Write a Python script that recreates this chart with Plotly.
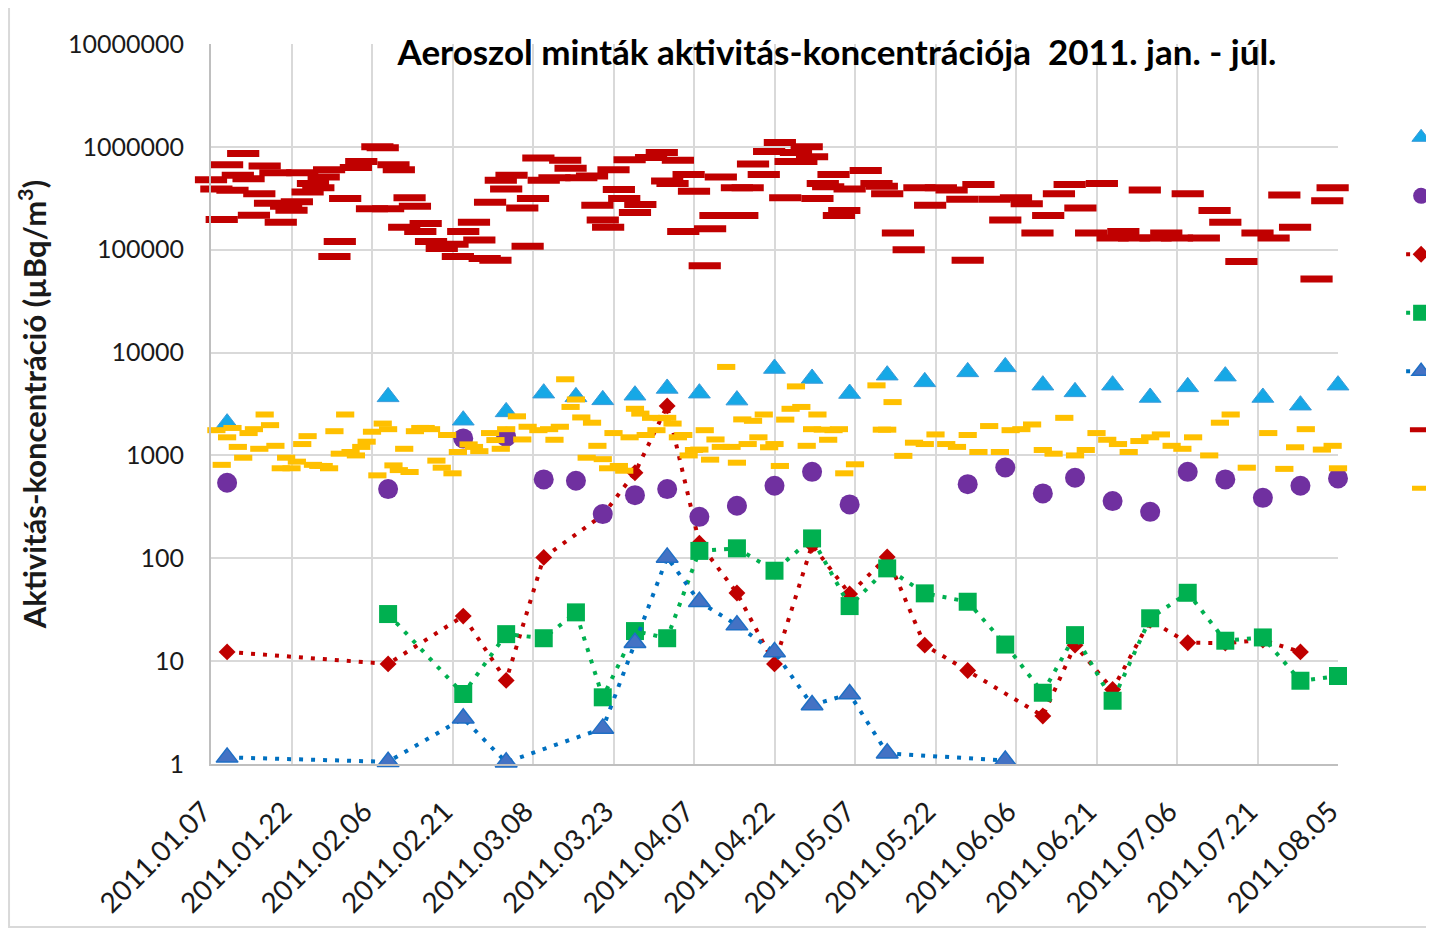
import plotly.graph_objects as go

# ---- weekly series ----
tri_dates = ["2011-01-10","2011-02-09","2011-02-23","2011-03-03","2011-03-10","2011-03-16","2011-03-21",
             "2011-03-27","2011-04-02","2011-04-08","2011-04-15","2011-04-22","2011-04-29","2011-05-06",
             "2011-05-13","2011-05-20","2011-05-28","2011-06-04","2011-06-11","2011-06-17","2011-06-24",
             "2011-07-01","2011-07-08","2011-07-15","2011-07-22","2011-07-29","2011-08-05"]
tri_vals = [2060,3710,2200,2650,4030,3710,3470,3850,4480,4030,3450,7000,5600,4000,
            6030,5190,6490,7260,4820,4150,4820,3660,4640,5900,3660,3080,4820]

circ_dates = ["2011-01-10","2011-02-09","2011-02-23","2011-03-03","2011-03-10","2011-03-16","2011-03-21",
              "2011-03-27","2011-04-02","2011-04-08","2011-04-15","2011-04-22","2011-04-29","2011-05-06",
              "2011-05-28","2011-06-04","2011-06-11","2011-06-17","2011-06-24","2011-07-01","2011-07-08",
              "2011-07-15","2011-07-22","2011-07-29","2011-08-05"]
circ_vals = [542,471,1463,1517,585,567,269,411,471,253,324,507,693,334,
             526,764,427,606,360,283,693,585,387,507,598]

dia_dates = ["2011-01-10","2011-02-09","2011-02-23","2011-03-03","2011-03-10","2011-03-21","2011-03-27",
             "2011-04-02","2011-04-08","2011-04-15","2011-04-22","2011-04-29","2011-05-06","2011-05-13",
             "2011-05-20","2011-05-28","2011-06-11","2011-06-17","2011-06-24","2011-07-01","2011-07-08",
             "2011-07-15","2011-07-22","2011-07-29"]
dia_vals = [12.3,9.4,27.4,6.5,102,263,678,3030,140,46,9.4,135,45,103,
            14.3,8.1,2.93,14.3,5.3,25,15.1,15,16,12.3]

sq_dates = ["2011-02-09","2011-02-23","2011-03-03","2011-03-10","2011-03-16","2011-03-21","2011-03-27",
            "2011-04-02","2011-04-08","2011-04-15","2011-04-22","2011-04-29","2011-05-06","2011-05-13",
            "2011-05-20","2011-05-28","2011-06-04","2011-06-11","2011-06-17","2011-06-24","2011-07-01",
            "2011-07-08","2011-07-15","2011-07-22","2011-07-29","2011-08-05"]
sq_vals = [28.7,4.79,18.3,16.7,29.8,4.45,19.6,16.7,118,125,75.7,156,34.3,79.8,
           45.6,37.8,14.5,4.93,17.9,4.12,26.1,46.2,15.8,17.0,6.45,7.17]

btri_dates = ["2011-01-10","2011-02-09","2011-02-23","2011-03-03","2011-03-21","2011-03-27","2011-04-02",
              "2011-04-08","2011-04-15","2011-04-22","2011-04-29","2011-05-06","2011-05-13","2011-06-04"]
btri_vals = [1.16,1.05,2.78,1.04,2.22,15.1,102,37.8,22.4,12.3,3.74,4.79,1.27,1.08]

# ---- daily-ish series ----
dash_dates = ["2011-01-07","2011-01-08","2011-01-09","2011-01-10","2011-01-11","2011-01-12","2011-01-13",
              "2011-01-14","2011-01-15","2011-01-16","2011-01-17","2011-01-18","2011-01-19","2011-01-20",
              "2011-01-21","2011-01-22","2011-01-23","2011-01-24","2011-01-25","2011-01-26","2011-01-27",
              "2011-01-28","2011-01-29","2011-01-30","2011-01-31","2011-02-01","2011-02-03","2011-02-04",
              "2011-02-06","2011-02-07","2011-02-08","2011-02-09","2011-02-10","2011-02-11","2011-02-12",
              "2011-02-13","2011-02-14","2011-02-15","2011-02-16","2011-02-17","2011-02-19","2011-02-21",
              "2011-02-22","2011-02-23","2011-02-25","2011-02-26","2011-02-27","2011-02-28","2011-03-01",
              "2011-03-02","2011-03-03","2011-03-04","2011-03-06","2011-03-07","2011-03-08","2011-03-09",
              "2011-03-10","2011-03-12","2011-03-14","2011-03-15","2011-03-17","2011-03-19","2011-03-20",
              "2011-03-21","2011-03-22","2011-03-23","2011-03-24","2011-03-25","2011-03-26","2011-03-27",
              "2011-03-28","2011-03-30","2011-04-01","2011-04-02","2011-04-03","2011-04-04","2011-04-05",
              "2011-04-06","2011-04-07","2011-04-09","2011-04-10","2011-04-11","2011-04-12","2011-04-14",
              "2011-04-15","2011-04-16","2011-04-17","2011-04-18","2011-04-20","2011-04-21","2011-04-23",
              "2011-04-24","2011-04-25","2011-04-26","2011-04-27","2011-04-28","2011-04-29","2011-04-30",
              "2011-05-01","2011-05-02","2011-05-03","2011-05-04","2011-05-05","2011-05-06","2011-05-09",
              "2011-05-11","2011-05-12","2011-05-13","2011-05-15","2011-05-17","2011-05-19","2011-05-21",
              "2011-05-23","2011-05-25","2011-05-27","2011-05-28","2011-05-30","2011-06-02","2011-06-04",
              "2011-06-06","2011-06-08","2011-06-10","2011-06-12","2011-06-14","2011-06-16","2011-06-18",
              "2011-06-20","2011-06-22","2011-06-24","2011-06-26","2011-06-28","2011-06-30","2011-07-02",
              "2011-07-04","2011-07-06","2011-07-08","2011-07-11","2011-07-13","2011-07-15","2011-07-18",
              "2011-07-21","2011-07-24","2011-07-26","2011-07-28","2011-08-01","2011-08-03","2011-08-04"]
dash_vals = [480000,390000,197000,670000,378000,529000,860000,
             490000,216000,350000,650000,283000,560000,185000,
             265000,242000,292000,560000,365000,440000,400000,
             510000,600000,86000,120000,315000,630000,720000,
             250000,1000000,980000,250000,670000,600000,165000,
             320000,265000,150000,180000,120000,103000,113000,
             86000,150000,185000,124000,82000,290000,79000,
             473000,390000,530000,255000,108000,315000,780000,
             473000,500000,740000,620000,500000,520000,270000,
             195000,165000,600000,385000,315000,750000,230000,
             275000,790000,880000,465000,440000,740000,150000,
             540000,370000,70000,160000,215000,510000,215000,
             400000,215000,400000,680000,540000,900000,1100000,
             320000,720000,880000,720000,1000000,800000,315000,
             440000,410000,540000,215000,240000,390000,590000,
             440000,415000,350000,145000,100000,400000,270000,
             400000,380000,310000,79000,430000,310000,195000,
             320000,280000,145000,215000,350000,430000,255000,
             145000,440000,130000,150000,130000,380000,130000,
             145000,130000,350000,130000,240000,185000,77000,
             145000,130000,340000,165000,52000,300000,400000]

small_dates = ["2011-01-08","2011-01-09","2011-01-10","2011-01-11","2011-01-12","2011-01-13","2011-01-14",
               "2011-01-15","2011-01-16","2011-01-17","2011-01-18","2011-01-19","2011-01-20","2011-01-21",
               "2011-01-22","2011-01-23","2011-01-24","2011-01-25","2011-01-26","2011-01-27","2011-01-28",
               "2011-01-29","2011-01-30","2011-01-31","2011-02-01","2011-02-02","2011-02-03","2011-02-04",
               "2011-02-05","2011-02-06","2011-02-07","2011-02-08","2011-02-09","2011-02-10","2011-02-11",
               "2011-02-12","2011-02-13","2011-02-14","2011-02-15","2011-02-16","2011-02-17","2011-02-18",
               "2011-02-19","2011-02-20","2011-02-21","2011-02-22","2011-02-24","2011-02-25","2011-02-26",
               "2011-02-28","2011-03-01","2011-03-02","2011-03-03","2011-03-05","2011-03-06","2011-03-07",
               "2011-03-09","2011-03-11","2011-03-12","2011-03-13","2011-03-14","2011-03-15","2011-03-16",
               "2011-03-17","2011-03-18","2011-03-19","2011-03-20","2011-03-21","2011-03-22","2011-03-23",
               "2011-03-24","2011-03-25","2011-03-26","2011-03-27","2011-03-28","2011-03-29","2011-03-30",
               "2011-03-31","2011-04-01","2011-04-02","2011-04-03","2011-04-04","2011-04-05","2011-04-06",
               "2011-04-07","2011-04-08","2011-04-09","2011-04-10","2011-04-11","2011-04-12","2011-04-13",
               "2011-04-14","2011-04-15","2011-04-16","2011-04-17","2011-04-18","2011-04-19","2011-04-20",
               "2011-04-21","2011-04-22","2011-04-23","2011-04-24","2011-04-25","2011-04-26","2011-04-27",
               "2011-04-28","2011-04-29","2011-04-30","2011-05-01","2011-05-02","2011-05-03","2011-05-04",
               "2011-05-05","2011-05-07","2011-05-11","2011-05-12","2011-05-13","2011-05-14","2011-05-16",
               "2011-05-18","2011-05-20","2011-05-22","2011-05-24","2011-05-26","2011-05-28","2011-05-30",
               "2011-06-01","2011-06-03","2011-06-05","2011-06-07","2011-06-09","2011-06-11","2011-06-13",
               "2011-06-15","2011-06-17","2011-06-19","2011-06-21","2011-06-23","2011-06-25","2011-06-27",
               "2011-06-29","2011-07-01","2011-07-03","2011-07-05","2011-07-07","2011-07-09","2011-07-12",
               "2011-07-14","2011-07-16","2011-07-19","2011-07-23","2011-07-26","2011-07-28","2011-07-30",
               "2011-08-02","2011-08-04","2011-08-05"]
small_vals = [1760,810,1500,1850,1210,950,1650,
              1800,1160,2500,1970,1240,750,950,
              750,870,1290,1540,810,790,790,
              750,1720,1040,2500,1080,1000,1210,
              1360,1700,640,2040,1800,800,720,
              1160,690,1720,1850,1850,1800,890,
              760,1580,670,1080,1280,1210,1100,
              1650,1410,1160,1800,2400,1430,1900,
              1760,1800,1420,1900,5500,2960,3500,
              2340,950,2080,1240,920,750,1650,
              790,710,1500,2840,2550,1580,2320,
              1760,2300,2320,2040,1500,1580,1000,
              1130,1140,1760,910,1430,1210,7250,
              1210,850,2240,1290,2170,1500,2500,
              1200,1290,790,2230,2840,4690,2960,
              1240,1800,2500,1780,1420,1760,1800,
              670,820,4800,1780,1780,3300,990,
              1330,1290,1600,1290,1210,1580,1080,
              1930,1080,1760,1800,2000,1130,1040,
              2320,1000,1130,1650,1420,1290,1080,
              1380,1500,1600,1240,1160,1500,1000,
              2080,2500,760,1650,740,1200,1800,
              1140,1240,750]

ytick_vals = [1, 10, 100, 1000, 10000, 100000, 1000000, 10000000]
ytick_text = ["1", "10", "100", "1000", "10000", "100000", "1000000", "10000000"]

FONT = "Lato, Carlito, 'Liberation Sans', sans-serif"
DOT = "4px,8px"

fig = go.Figure()

fig.add_trace(go.Scatter(x=tri_dates, y=tri_vals, mode="markers", name="", legendgroup="a", legendrank=1,
                         marker=dict(symbol="triangle-up", size=19, color="#16A8E6",
                                     line=dict(color="#3A9AD9", width=1)), cliponaxis=False))
fig.add_trace(go.Scatter(x=dia_dates, y=dia_vals, mode="lines+markers", name="", legendgroup="c", legendrank=3,
                         line=dict(color="#C00000", width=4, dash=DOT),
                         marker=dict(symbol="diamond", size=13, color="#C00000"), cliponaxis=False))
fig.add_trace(go.Scatter(x=circ_dates, y=circ_vals, mode="markers", name="", legendgroup="b", legendrank=2,
                         marker=dict(symbol="circle", size=20, color="#7030A0"), cliponaxis=False))
fig.add_trace(go.Scatter(x=sq_dates, y=sq_vals, mode="lines+markers", name="", legendgroup="d", legendrank=4,
                         line=dict(color="#00B050", width=4, dash=DOT),
                         marker=dict(symbol="square", size=18, color="#00B050"), cliponaxis=False))
fig.add_trace(go.Scatter(x=btri_dates, y=btri_vals, mode="lines+markers", name="", legendgroup="e", legendrank=5,
                         line=dict(color="#0070C0", width=4, dash=DOT),
                         marker=dict(symbol="triangle-up", size=19, color="#4472C4",
                                     line=dict(color="#1F6FC5", width=1.5)), cliponaxis=False))
fig.add_trace(go.Scatter(x=dash_dates, y=dash_vals, mode="markers", name="", legendgroup="f", legendrank=6,
                         marker=dict(symbol="line-ew", size=23, color="#C00000",
                                     line=dict(color="#C00000", width=7)), cliponaxis=False))
fig.add_trace(go.Scatter(x=small_dates, y=small_vals, mode="markers", name="", legendgroup="g", legendrank=7,
                         marker=dict(symbol="line-ew", size=13, color="#FFC000",
                                     line=dict(color="#FFC000", width=6)), cliponaxis=False))

fig.update_layout(
    width=1434, height=930,
    margin=dict(l=203, r=104, t=36, b=174, autoexpand=False),
    paper_bgcolor="white", plot_bgcolor="white",
    font=dict(family=FONT, color="#1a1a1a"),
    title=dict(text="Aeroszol minták aktivitás-koncentrációja\u00a0 2011. jan. - júl.",
               xref="container", yref="container", x=829/1434, xanchor="center",
               y=1-45/930, yanchor="middle",
               font=dict(family=FONT, size=35, weight="bold", color="black")),
    showlegend=True,
    legend=dict(x=1.056, xanchor="left", y=0.902, yanchor="top", tracegroupgap=23,
                font=dict(size=25), bgcolor="rgba(0,0,0,0)", itemwidth=30),
    shapes=[dict(type="rect", xref="paper", yref="paper", x0=-0.1792, x1=1.3, y0=-0.2264, y1=1.2,
                 line=dict(color="#D9D9D9", width=2), layer="below")],
)

fig.update_xaxes(type="date", range=["2011-01-07", "2011-08-05"], tick0="2011-01-07",
                 dtick=15*86400000, tickformat="%Y.%m.%d", tickangle=-45,
                 showgrid=True, gridcolor="#D9D9D9", gridwidth=2,
                 showline=True, linecolor="#BFBFBF", linewidth=2,
                 ticks="outside", ticklen=18, tickcolor="rgba(0,0,0,0)", ticklabelshift=-8,
                 tickfont=dict(family=FONT, size=28, color="#1a1a1a"))
fig.update_yaxes(type="log", range=[0, 7], tickvals=ytick_vals, ticktext=ytick_text,
                 showgrid=True, gridcolor="#D9D9D9", gridwidth=2,
                 showline=True, linecolor="#BFBFBF", linewidth=2,
                 ticks="outside", ticklen=20, tickcolor="rgba(0,0,0,0)",
                 tickfont=dict(family=FONT, size=25, color="#1a1a1a"),
                 title=dict(text="Aktivitás-koncentráció (µBq/m<sup>3</sup>)", standoff=12,
                            font=dict(family=FONT, size=31, weight="bold", color="#1a1a1a")))

fig.write_html("out.html")
